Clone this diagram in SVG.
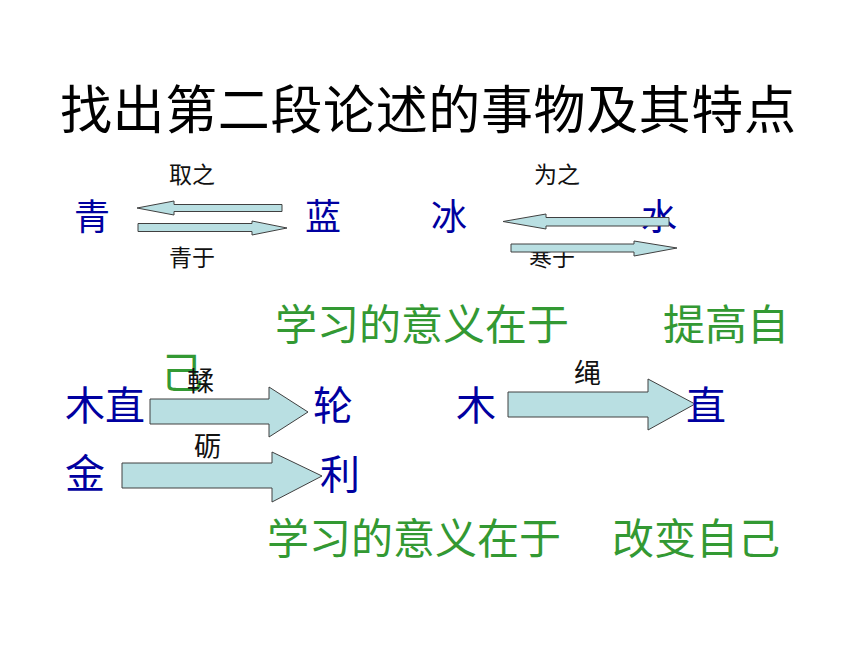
<svg xmlns="http://www.w3.org/2000/svg" width="860" height="645" viewBox="0 0 860 645">
<style>
text{font-family:"Noto Sans CJK SC","Noto Sans CJK TC",sans-serif;}
.title{font-size:52px;fill:#000;}
.lbl{font-size:23px;fill:#111;}
.lbl2{font-size:27px;fill:#111;}
.b36{font-size:36px;fill:#0000a0;}
.b40{font-size:40px;fill:#0000a0;}
.g{font-size:42px;fill:#339933;}
.arr{fill:#b9dfe2;stroke:#404040;stroke-width:1;stroke-linejoin:miter;}
</style>
<rect width="860" height="645" fill="#fff"/>
<g id="title"><text class="title" x="60" y="129" textLength="736" lengthAdjust="spacing">找出第二段论述的事物及其特点</text></g>

<g id="label-qu"><text class="lbl" x="169" y="183">取之</text></g>
<g id="label-qingyu-lbl"><text class="lbl" x="169" y="266">青于</text></g>
<g id="label-weizhi"><text class="lbl" x="534" y="183">为之</text></g>
<g id="label-hanyu"><text class="lbl" x="529" y="266">寒于</text></g>
<g id="node-qing"><text class="b36" x="74" y="230">青</text></g>
<g id="node-lan"><text class="b36" x="305" y="230">蓝</text></g>
<g id="node-bing"><text class="b36" x="431" y="230">冰</text></g>
<g id="node-shui"><text class="b36" x="641" y="230">水</text></g>

<g id="connectors">
<polygon class="arr" points="137,208 174,201 174,204.5 282,204.5 282,211.5 174,211.5 174,215"/>
<polygon class="arr" points="138,223.5 252,223.5 252,221 287,228 252,235 252,231.5 138,231.5"/>
<polygon class="arr" points="503,221.5 546,214 546,217.5 669,217.5 669,226 546,226 546,229"/>
<polygon class="arr" points="511,244 634,244 634,241 677,248 634,256 634,252 511,252"/>
<polygon class="arr" points="150,399 269,399 269,387 308,412 269,437 269,424 150,424"/>
<polygon class="arr" points="122,463 272,463 272,452 322,476 272,502 272,488 122,488"/>
<polygon class="arr" points="508,392 648,392 648,379 695,404 648,430 648,417 508,417"/>
</g>

<g id="text-meaning1"><text class="g" x="275" y="340">学习的意义在于</text><text class="g" x="663" y="340">提高自</text></g>
<g id="text-ji"><text class="g" x="161" y="388">己</text></g>
<g id="label-rou"><text class="lbl2" x="187" y="391">輮</text></g>
<g id="node-muzhi"><text class="b40" x="65" y="420">木直</text></g>
<g id="node-lun"><text class="b40" x="313" y="420">轮</text></g>
<g id="label-li"><text class="lbl2" x="194" y="456">砺</text></g>
<g id="node-jin"><text class="b40" x="65" y="488">金</text></g>
<g id="node-li"><text class="b40" x="320" y="489">利</text></g>
<g id="node-mu"><text class="b40" x="456" y="420">木</text></g>
<g id="label-sheng"><text class="lbl2" x="574" y="383">绳</text></g>
<g id="node-zhi"><text class="b40" x="686" y="420">直</text></g>
<g id="text-meaning2"><text class="g" x="267" y="554">学习的意义在于</text><text class="g" x="612" y="554">改变自己</text></g>
</svg>
